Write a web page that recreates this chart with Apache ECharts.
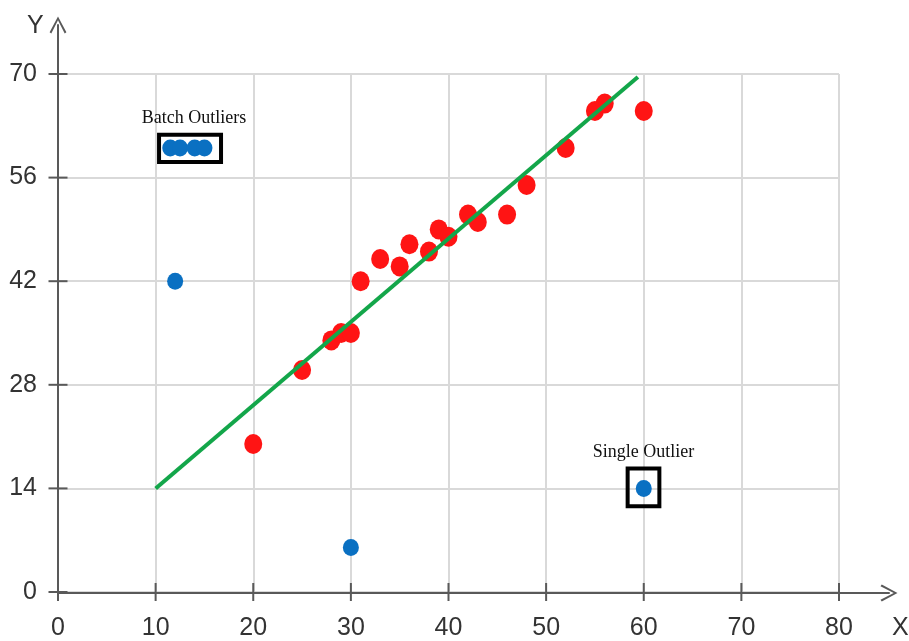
<!DOCTYPE html>
<html>
<head>
<meta charset="utf-8">
<script src="https://cdn.jsdelivr.net/npm/echarts@6/dist/echarts.min.js"></script>
<style>
html,body{margin:0;padding:0;background:#fff;}
#chart{width:909px;height:641px;}
</style>
</head>
<body>
<div id="chart"></div>
<script>
// ---- data ----
var xTicks = [0, 10, 20, 30, 40, 50, 60, 70, 80];
var yTicks = [0, 14, 28, 42, 56, 70];

var normalX = [20, 25, 28, 29, 30, 31, 33, 35, 36, 38, 39, 40, 42, 43, 46, 48, 52, 55, 56, 60];
var normalY = [20, 30, 34, 35, 35, 42, 45, 44, 47, 46, 49, 48, 51, 50, 51, 55, 60, 65, 66, 65];

var outlierX = [11.5, 12.5, 14, 15, 12, 30, 60];
var outlierY = [60, 60, 60, 60, 42, 6, 14];

var fitX = [10, 59.4];
var fitY = [14, 69.6];

var boxNames = ['Batch Outliers', 'Single Outlier'];
var boxX = [[10.35, 16.7], [58.35, 61.6]];
var boxY = [[58.1, 61.8], [11.6, 16.7]];

function zip(a, b) { return a.map(function (v, i) { return [v, b[i]]; }); }

var numFont = '"Liberation Sans Narrow", "Arial Narrow", "Liberation Sans", sans-serif';
var serifFont = '"Liberation Serif", "Times New Roman", serif';
var axisColor = '#595959';
var arrowPath = 'path://M8,0 L16,15 L14.4,16.2 L8,3.6 L1.6,16.2 L0,15 Z';

var xMin = xTicks[0], xMax = xTicks[xTicks.length - 1], xStep = xTicks[1] - xTicks[0];
var yMin = yTicks[0], yMax = yTicks[yTicks.length - 1], yStep = yTicks[1] - yTicks[0];

var chart = echarts.init(document.getElementById('chart'), null, {renderer: 'canvas'});
chart.setOption({
  animation: false,
  backgroundColor: '#ffffff',
  grid: [
    {left: 58, right: 70, top: 74, bottom: 48},
    {left: 58, right: 20, top: 25, bottom: 48}
  ],
  xAxis: [
    {
      type: 'value', gridIndex: 0, min: xMin, max: xMax, interval: xStep,
      axisLine: {show: false},
      axisTick: {show: false},
      axisLabel: {margin: 24, fontSize: 25, fontFamily: numFont, color: '#333'},
      splitLine: {show: true, lineStyle: {color: '#d9d9d9', width: 2}}
    },
    {
      type: 'value', gridIndex: 1, min: 0, max: (909 - 20 - 58) / (839 - 58) * xMax,
      axisLine: {show: true, onZero: false, lineStyle: {color: axisColor, width: 2},
        symbol: ['none', arrowPath], symbolSize: [17, 17]},
      axisTick: {show: false},
      axisLabel: {show: false},
      splitLine: {show: false}
    }
  ],
  yAxis: [
    {
      type: 'value', gridIndex: 0, min: yMin, max: yMax, interval: yStep,
      axisLine: {show: false},
      axisTick: {show: false},
      axisLabel: {margin: 21, fontSize: 25, fontFamily: numFont, color: '#333'},
      splitLine: {show: true, lineStyle: {color: '#d9d9d9', width: 2}}
    },
    {
      type: 'value', gridIndex: 1, min: 0, max: (593 - 25) / (593 - 74) * yMax,
      axisLine: {show: true, onZero: false, lineStyle: {color: axisColor, width: 2},
        symbol: ['none', arrowPath], symbolSize: [17, 17]},
      axisTick: {show: false},
      axisLabel: {show: false},
      splitLine: {show: false}
    }
  ],
  graphic: [
    {type: 'text', left: 27, top: 14, style: {text: 'Y', font: '25px ' + numFont, fill: '#333'}},
    {type: 'text', left: 892, top: 616, style: {text: 'X', font: '25px ' + numFont, fill: '#333'}}
  ],
  series: [
    {
      // crossing tick marks on the x axis
      type: 'scatter', xAxisIndex: 0, yAxisIndex: 0, silent: true, clip: false,
      data: xTicks.map(function (v) { return [v, yMin]; }),
      symbol: 'rect', symbolSize: [2, 18],
      itemStyle: {color: axisColor, opacity: 1}, z: 4
    },
    {
      // crossing tick marks on the y axis
      type: 'scatter', xAxisIndex: 0, yAxisIndex: 0, silent: true, clip: false,
      data: yTicks.map(function (v) { return [xMin, v]; }),
      symbol: 'rect', symbolSize: [19, 2],
      itemStyle: {color: axisColor, opacity: 1}, z: 4
    },
    {
      type: 'scatter', xAxisIndex: 0, yAxisIndex: 0,
      data: zip(normalX, normalY),
      symbol: 'circle', symbolSize: [18, 20],
      itemStyle: {color: '#ff1414', opacity: 1}, z: 2
    },
    {
      type: 'scatter', xAxisIndex: 0, yAxisIndex: 0,
      data: zip(outlierX, outlierY),
      symbol: 'circle', symbolSize: [16, 17],
      itemStyle: {color: '#0a70c2', opacity: 1}, z: 2,
      markArea: {
        silent: true,
        itemStyle: {color: 'rgba(0,0,0,0)', borderColor: '#000', borderWidth: 4},
        label: {show: true, position: 'top', distance: 5, fontFamily: serifFont, fontSize: 18, color: '#111'},
        data: boxNames.map(function (n, i) {
          return [
            {name: n, xAxis: boxX[i][0], yAxis: boxY[i][0], label: {offset: [i === 0 ? 4 : 0, 0]}},
            {xAxis: boxX[i][1], yAxis: boxY[i][1]}
          ];
        })
      }
    },
    {
      type: 'line', xAxisIndex: 0, yAxisIndex: 0,
      data: zip(fitX, fitY),
      symbol: 'none',
      lineStyle: {color: '#13a64a', width: 4},
      z: 3
    }
  ]
});
</script>
</body>
</html>
